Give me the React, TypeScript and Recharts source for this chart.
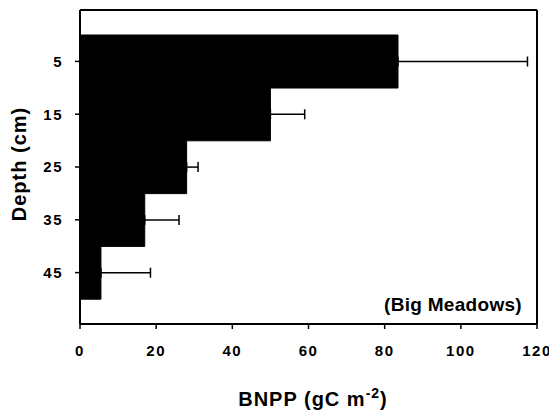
import { BarChart, Bar, XAxis, YAxis, ErrorBar, Label, ReferenceLine } from "recharts";

// depth classes (cm) and BNPP per layer
const depths = ["5", "15", "25", "35", "45"];
const bnpp = [83.5, 50, 28, 17, 5.5];
const errPlus = [34, 9, 3, 9, 13];
const xTicks = [0, 20, 40, 60, 80, 100, 120];

const data = depths.map((d, i) => ({
  depth: d,
  bnpp: bnpp[i],
  err: [0, errPlus[i]],
}));

const FONT = '"Liberation Sans", Arial, sans-serif';

export default function App() {
  return (
    <div style={{ margin: -8, width: 557, height: 419, background: "#fff" }}>
      <BarChart
        width={557}
        height={419}
        data={data}
        layout="vertical"
        barCategoryGap={0}
        margin={{ top: 9, right: 20, bottom: 0, left: 0 }}
      >
        <XAxis
          type="number"
          domain={[0, 120]}
          ticks={xTicks}
          tickSize={5}
          tickMargin={16}
          axisLine={{ stroke: "#000", strokeWidth: 2 }}
          tickLine={{ stroke: "#000", strokeWidth: 1.5 }}
          tick={{ fill: "#000", fontSize: 15, fontWeight: 700, fontFamily: FONT, letterSpacing: 1.5 }}
          height={95}
        >
          <Label
            content={() => (
              <text
                x={313}
                y={406}
                textAnchor="middle"
                fill="#000"
                fontFamily={FONT}
                fontWeight={700}
                fontSize={20}
                letterSpacing={1}
              >
                BNPP (gC m
                <tspan fontSize={14} dy={-8}>-2</tspan>
                <tspan dy={8}>)</tspan>
              </text>
            )}
          />
          <Label
            content={() => (
              <text
                x={522}
                y={311}
                textAnchor="end"
                fill="#000"
                fontFamily={FONT}
                fontWeight={700}
                fontSize={19}
                letterSpacing={0.3}
              >
                (Big Meadows)
              </text>
            )}
          />
        </XAxis>
        <XAxis
          xAxisId="top"
          orientation="top"
          type="number"
          domain={[0, 120]}
          height={1}
          tick={false}
          tickLine={false}
          axisLine={{ stroke: "#000", strokeWidth: 2 }}
        />
        <YAxis
          type="category"
          dataKey="depth"
          width={80}
          padding={{ top: 25, bottom: 25 }}
          tickSize={5}
          tickMargin={12}
          axisLine={{ stroke: "#000", strokeWidth: 2 }}
          tickLine={{ stroke: "#000", strokeWidth: 1.5 }}
          tick={{ fill: "#000", fontSize: 15, fontWeight: 700, fontFamily: FONT, letterSpacing: 1.5 }}
        >
          <Label
            content={() => (
              <text
                x={26}
                y={164}
                transform="rotate(-90 26 164)"
                textAnchor="middle"
                fill="#000"
                fontFamily={FONT}
                fontWeight={700}
                fontSize={20}
                letterSpacing={1}
              >
                Depth (cm)
              </text>
            )}
          />
        </YAxis>
        <ReferenceLine x={120} stroke="#000" strokeWidth={2} />
        <Bar dataKey="bnpp" fill="#000" stroke="#000" strokeWidth={1} isAnimationActive={false}>
          <ErrorBar dataKey="err" direction="x" width={5} stroke="#000" strokeWidth={1.5} />
        </Bar>
      </BarChart>
    </div>
  );
}
